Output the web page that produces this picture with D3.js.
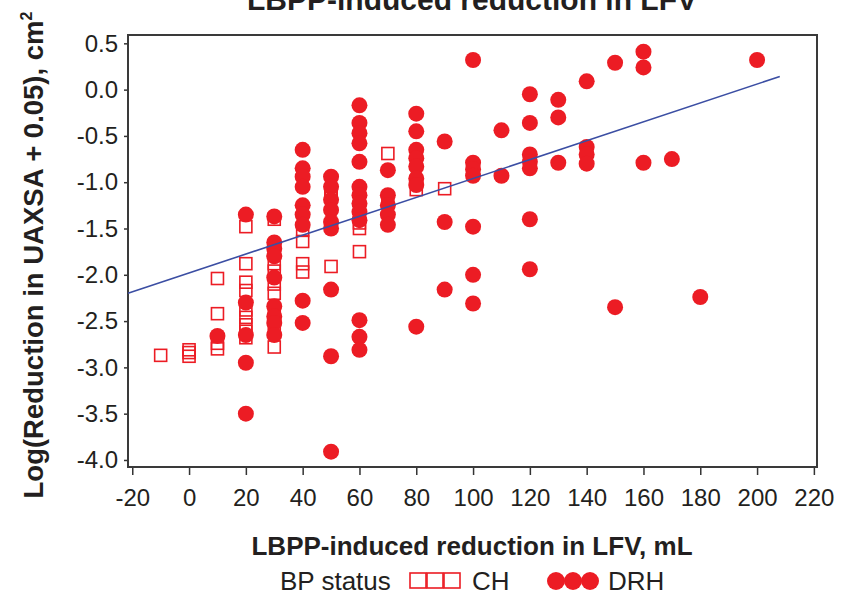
<!DOCTYPE html>
<html>
<head>
<meta charset="utf-8">
<script src="https://cdn.jsdelivr.net/npm/d3@7"></script>
<style>
  html, body { margin: 0; padding: 0; background: #fff; }
  svg { display: block; font-family: "Liberation Sans", Arial, sans-serif; }
</style>
</head>
<body>
<svg id="chart" width="850" height="597"></svg>
<script>
// LBPP-induced reduction in LFV (mL) vs log(reduction in UAXSA + 0.05)
const xTicks = [-20, 0, 20, 40, 60, 80, 100, 120, 140, 160, 180, 200, 220];
const yTicks = [-4.0, -3.5, -3.0, -2.5, -2.0, -1.5, -1.0, -0.5, 0.0, 0.5];

// CH group: [LFV reduction, log UAXSA reduction]
const chPoints = [
  [-10, -2.87],
  [0, -2.81], [0, -2.84], [0, -2.88],
  [10, -2.04], [10, -2.42], [10, -2.74], [10, -2.80],
  [20, -1.48], [20, -1.88], [20, -2.08], [20, -2.17], [20, -2.38], [20, -2.46], [20, -2.54], [20, -2.61], [20, -2.68],
  [30, -1.40], [30, -1.88], [30, -1.96], [30, -2.10], [30, -2.20], [30, -2.43], [30, -2.60], [30, -2.78],
  [40, -1.52], [40, -1.64], [40, -1.88], [40, -1.97],
  [50, -1.08], [50, -1.12], [50, -1.15], [50, -1.91],
  [60, -1.44], [60, -1.50], [60, -1.75],
  [70, -0.69], [70, -1.22],
  [80, -1.08],
  [90, -1.07]
];

// DRH group
const drhPoints = [
  [10, -2.66],
  [20, -1.35], [20, -2.30], [20, -2.65], [20, -2.95], [20, -3.50],
  [30, -1.37], [30, -1.65], [30, -1.72], [30, -1.80], [30, -2.03], [30, -2.34], [30, -2.45], [30, -2.52], [30, -2.65],
  [40, -0.65], [40, -0.85], [40, -0.94], [40, -1.05], [40, -1.25], [40, -1.35], [40, -1.46], [40, -2.28], [40, -2.52],
  [50, -0.94], [50, -1.05], [50, -1.19], [50, -1.30], [50, -1.43], [50, -1.50], [50, -2.16], [50, -2.88], [50, -3.91],
  [60, -0.17], [60, -0.36], [60, -0.47], [60, -0.58], [60, -0.78], [60, -1.05], [60, -1.14], [60, -1.23], [60, -1.32], [60, -1.41], [60, -2.49], [60, -2.67], [60, -2.81],
  [70, -0.87], [70, -1.14], [70, -1.25], [70, -1.35], [70, -1.46],
  [80, -0.26], [80, -0.45], [80, -0.65], [80, -0.74], [80, -0.83], [80, -0.96], [80, -1.03], [80, -2.56],
  [90, -0.56], [90, -1.43], [90, -2.16],
  [100, 0.32], [100, -0.79], [100, -0.86], [100, -0.93], [100, -1.48], [100, -2.00], [100, -2.31],
  [110, -0.44], [110, -0.93],
  [120, -0.05], [120, -0.36], [120, -0.70], [120, -0.78], [120, -0.85], [120, -1.40], [120, -1.94],
  [130, -0.11], [130, -0.30], [130, -0.79],
  [140, 0.09], [140, -0.62], [140, -0.70], [140, -0.80],
  [150, 0.29], [150, -2.35],
  [160, 0.41], [160, 0.24], [160, -0.79],
  [170, -0.75],
  [180, -2.24],
  [200, 0.32]
];

// Linear fit over all subjects
const fitIntercept = -1.98;
const fitSlope = 0.0102;
const fitRange = [-21.5, 208];

const legendLabels = ["CH", "DRH"];

const red = "#ec1c24";
const ink = "#231f20";

const svg = d3.select("#chart");
const frame = { left: 128, right: 817, top: 35, bottom: 467 };

const x = d3.scaleLinear().domain([-21.5, 221.1]).range([frame.left, frame.right]);
const y = d3.scaleLinear().domain([-4.076, 0.59]).range([frame.bottom, frame.top]);

const dash = s => s.replace("\u2212", "-");

// Title (runs off the top edge)
svg.append("text")
  .attr("x", 472).attr("y", 10)
  .attr("text-anchor", "middle")
  .attr("font-size", 30).attr("font-weight", "bold").attr("fill", ink)
  .text("LBPP-induced reduction in LFV");

// Axes
const yAxis = svg.append("g")
  .attr("transform", `translate(${frame.left},0)`)
  .call(d3.axisLeft(y).tickValues(yTicks).tickFormat(d => dash(d3.format(".1f")(d))).tickSize(4).tickPadding(6));
const xAxis = svg.append("g")
  .attr("transform", `translate(0,${frame.bottom})`)
  .call(d3.axisBottom(x).tickValues(xTicks).tickFormat(d => dash(String(d))).tickSize(8).tickPadding(14));

[yAxis, xAxis].forEach(g => {
  g.select(".domain").remove();
  g.selectAll(".tick line").attr("stroke", "#333").attr("stroke-width", 1.5);
  g.selectAll(".tick text").attr("fill", ink).attr("font-size", 24)
    .attr("font-family", "'Liberation Sans', Arial, sans-serif");
});

// Plot frame
svg.append("rect")
  .attr("x", frame.left).attr("y", frame.top)
  .attr("width", frame.right - frame.left).attr("height", frame.bottom - frame.top)
  .attr("fill", "none").attr("stroke", "#3a3a3a").attr("stroke-width", 2);

// Markers
const sq = 12;
svg.append("g").selectAll("rect")
  .data(chPoints).join("rect")
  .attr("x", d => x(d[0]) - sq / 2).attr("y", d => y(d[1]) - sq / 2)
  .attr("width", sq).attr("height", sq)
  .attr("fill", "none").attr("stroke", red).attr("stroke-width", 1.6);

svg.append("g").selectAll("circle")
  .data(drhPoints).join("circle")
  .attr("cx", d => x(d[0])).attr("cy", d => y(d[1]))
  .attr("r", 8).attr("fill", red);

// Regression line
svg.append("line")
  .attr("x1", x(fitRange[0])).attr("y1", y(fitIntercept + fitSlope * fitRange[0]))
  .attr("x2", x(fitRange[1])).attr("y2", y(fitIntercept + fitSlope * fitRange[1]))
  .attr("stroke", "#3b4ea3").attr("stroke-width", 1.6);

// Axis titles
svg.append("text")
  .attr("x", 472).attr("y", 555)
  .attr("text-anchor", "middle")
  .attr("font-size", 26).attr("font-weight", "bold").attr("fill", ink)
  .text("LBPP-induced reduction in LFV, mL");

const yTitle = svg.append("text")
  .attr("transform", "translate(43,255) rotate(-90)")
  .attr("text-anchor", "middle")
  .attr("font-size", 27.5).attr("font-weight", "bold").attr("fill", ink);
yTitle.append("tspan").text("Log(Reduction in UAXSA + 0.05), cm");
yTitle.append("tspan").attr("font-size", 16).attr("dy", -11).text("2");

// Legend
const legY = 590;
svg.append("text").attr("x", 280).attr("y", legY)
  .attr("font-size", 26).attr("fill", ink).text("BP status");
const leg = svg.append("g");
[0, 1, 2].forEach(i => {
  leg.append("rect")
    .attr("x", 410 + i * 17).attr("y", legY - 17)
    .attr("width", 16).attr("height", 15)
    .attr("fill", "none").attr("stroke", red).attr("stroke-width", 1.6);
  leg.append("circle")
    .attr("cx", 556 + i * 17).attr("cy", legY - 9)
    .attr("r", 9).attr("fill", red);
});
svg.append("text").attr("x", 472).attr("y", legY)
  .attr("font-size", 26).attr("fill", ink).text(legendLabels[0]);
svg.append("text").attr("x", 608).attr("y", legY)
  .attr("font-size", 26).attr("fill", ink).text(legendLabels[1]);
</script>
</body>
</html>
